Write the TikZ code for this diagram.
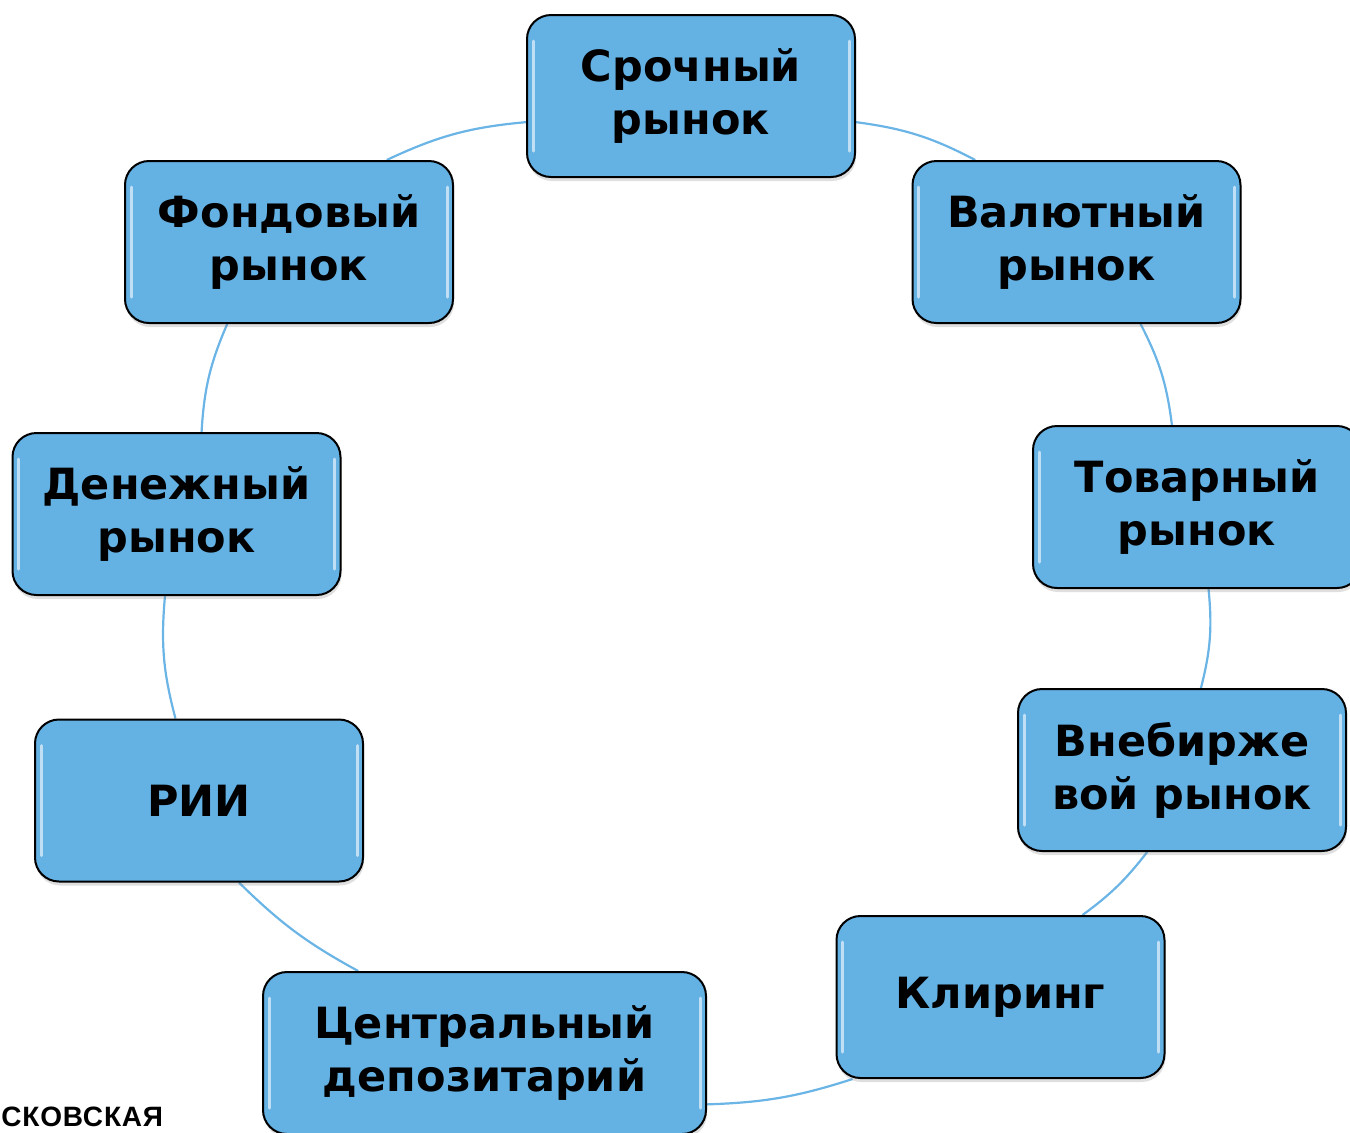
\documentclass[tikz,border=0pt]{standalone}
\usepackage{fontspec}
\setmainfont{DejaVu Sans}
\newfontfamily\logofont[LetterSpace=3]{Liberation Sans}
\usetikzlibrary{backgrounds,shadows}
\definecolor{boxfill}{HTML}{64B1E4}
\definecolor{linkcol}{HTML}{6AB4E6}
\tikzset{
  mkt/.style={draw=black, line width=1pt, fill=boxfill, rounded corners=12pt,
    minimum width=164pt, minimum height=81pt, align=center, inner sep=0pt,
    font=\fontsize{21.5}{26.5}\selectfont\bfseries, text=black,
    drop shadow={opacity=0.25, shadow xshift=0.5pt, shadow yshift=-2pt},
    path picture={
      \draw[white, opacity=0.6, line width=1.5pt, line cap=round]
        ([xshift=3pt,yshift=-13pt]path picture bounding box.north west) --
        ([xshift=3pt,yshift=13pt]path picture bounding box.south west)
        ([xshift=-3pt,yshift=-13pt]path picture bounding box.north east) --
        ([xshift=-3pt,yshift=13pt]path picture bounding box.south east);
    }},
  link/.style={draw=linkcol, line width=1.1pt},
  logo/.style={font=\logofont\fontsize{14}{16}\selectfont\bfseries, inner sep=0pt, anchor=base west}
}
\begin{document}
\begin{tikzpicture}[x=0.5pt,y=-0.5pt]
\useasboundingbox (0,0) rectangle (1350,1132);
\node[mkt] (s) at (691,96) {Срочный\\рынок};
\node[mkt] (v) at (1076.5,242) {Валютный\\рынок};
\node[mkt] (t) at (1197,507) {Товарный\\рынок};
\node[mkt] (o) at (1182,770) {Внебирже\\вой рынок};
\node[mkt] (k) at (1000.5,997) {Клиринг};
\node[mkt, minimum width=221.5pt] (c) at (484.5,1053) {Центральный\\депозитарий};
\node[mkt] (r) at (199,800.5) {РИИ};
\node[mkt] (d) at (176.5,514) {Денежный\\рынок};
\node[mkt] (f) at (289,242) {Фондовый\\рынок};
\node[logo] (lg) at (1,1126) {СКОВСКАЯ};
\begin{scope}[on background layer]
\draw[link] (s.351) to[bend left=10] (v.141);
\draw[link] (v.308) to[bend left=10] (t.107);
\draw[link] (t.278) to[bend left=10] (o.77.5);
\draw[link] (o.247) to[bend left=8] (k.45.4);
\draw[link] (k.209.5) to[bend left=8] (c.347.8);
\draw[link] (c.147) to[bend left=8] (r.296);
\draw[link] (r.106.7) to[bend left=10] (d.262.5);
\draw[link] (d.73.6) to[bend left=10] (f.233);
\draw[link] (f.40) to[bend left=10] (s.189);
\end{scope}
\end{tikzpicture}
\end{document}
